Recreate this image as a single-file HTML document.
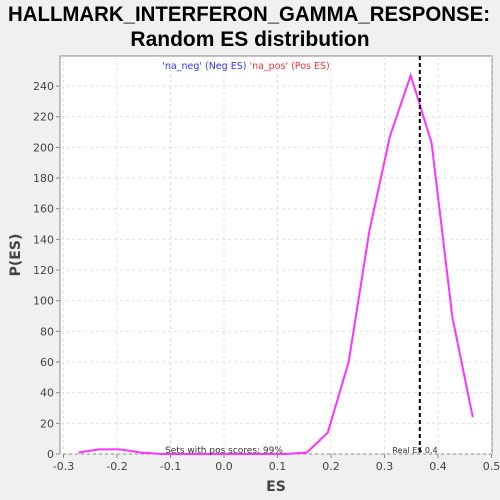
<!DOCTYPE html>
<html><head><meta charset="utf-8"><style>
html,body{margin:0;width:500px;height:500px;overflow:hidden;background:#f0f0f0;font-family:"Liberation Sans","DejaVu Sans",sans-serif}
svg{display:block}
svg text{font-family:"DejaVu Sans","Liberation Sans",sans-serif}
svg text.t{font-family:"Liberation Sans",sans-serif}
</style></head><body>
<svg id="c" width="500" height="500" xmlns="http://www.w3.org/2000/svg">
<rect width="500" height="500" fill="#f0f0f0"/>
<text class="t" x="249" y="21" text-anchor="middle" font-size="21" font-weight="bold" fill="#000" textLength="482" lengthAdjust="spacingAndGlyphs">HALLMARK_INTERFERON_GAMMA_RESPONSE:</text>
<text class="t" x="250" y="46" text-anchor="middle" font-size="21" font-weight="bold" fill="#000">Random ES distribution</text>
<rect x="60" y="56" width="432" height="398" fill="#fff" stroke="#888"/>
<g id="grid"></g><g id="axes"></g><g id="series"></g>
<text x="20" y="255" transform="rotate(-90 20 255)" text-anchor="middle" font-size="14" font-weight="bold" fill="#444">P(ES)</text>
<text x="276" y="491" text-anchor="middle" font-size="14" font-weight="bold" fill="#444">ES</text>
<text x="246" y="69" text-anchor="middle" font-size="9.5"><tspan fill="#3333ff">'na_neg' (Neg ES)</tspan><tspan fill="#ff3333"> 'na_pos' (Pos ES)</tspan></text>
<text x="224" y="453" text-anchor="middle" font-size="9" fill="#333">Sets with pos scores: 99%</text>
<text x="415" y="453" text-anchor="middle" font-size="8" fill="#333">Real ES 0.4</text>
</svg>
<script>
const xTicks=[-0.3,-0.2,-0.1,0.0,0.1,0.2,0.3,0.4,0.5];
const yTicks=[0,20,40,60,80,100,120,140,160,180,200,220,240];
const esValues=[-0.272,-0.233,-0.194,-0.156,-0.117,-0.078,-0.039,0.0,0.039,0.078,0.116,0.155,0.194,0.233,0.272,0.310,0.349,0.388,0.427,0.465];
const densities=[1,3,3,1,0,0,0,0,0,0,0,1,14,60,146,207,247,203,89,24];
const realES=0.366;
const NS="http://www.w3.org/2000/svg";
const X=v=>224+v*535, Y=v=>454-v*1.533;
function mk(t,a,p){const e=document.createElementNS(NS,t);for(const k in a)e.setAttribute(k,a[k]);document.getElementById(p).appendChild(e);return e;}
xTicks.forEach(t=>{
 const g=mk('line',{x1:X(t),x2:X(t),y1:56,y2:454,stroke:'#e0e0e0','stroke-dasharray':'3,3'},'grid');
 
 
 mk('line',{x1:X(t),x2:X(t),y1:454,y2:458,stroke:'#888'},'axes');
 const l=mk('text',{x:X(t),y:470,'text-anchor':'middle','font-size':11,fill:'#444'},'axes');
 l.textContent=t.toFixed(1);
 
 
});
yTicks.forEach(t=>{
 const g=mk('line',{x1:60,x2:492,y1:Y(t),y2:Y(t),stroke:'#e0e0e0','stroke-dasharray':'3,3'},'grid');
 
 
 mk('line',{x1:56,x2:60,y1:Y(t),y2:Y(t),stroke:'#888'},'axes');
 const l=mk('text',{x:54,y:Y(t)+4,'text-anchor':'end','font-size':11,fill:'#444'},'axes');
 l.textContent=t;
 
 
});
const pl=mk('polyline',{points:esValues.map((v,i)=>X(v)+','+Y(densities[i])).join(' '),fill:'none',stroke:'#ff33ff','stroke-width':2},'series');


const rl=mk('line',{x1:X(realES),x2:X(realES),y1:56,y2:454,stroke:'#000','stroke-width':2,'stroke-dasharray':'4,3'},'series');


</script>
</body></html>
